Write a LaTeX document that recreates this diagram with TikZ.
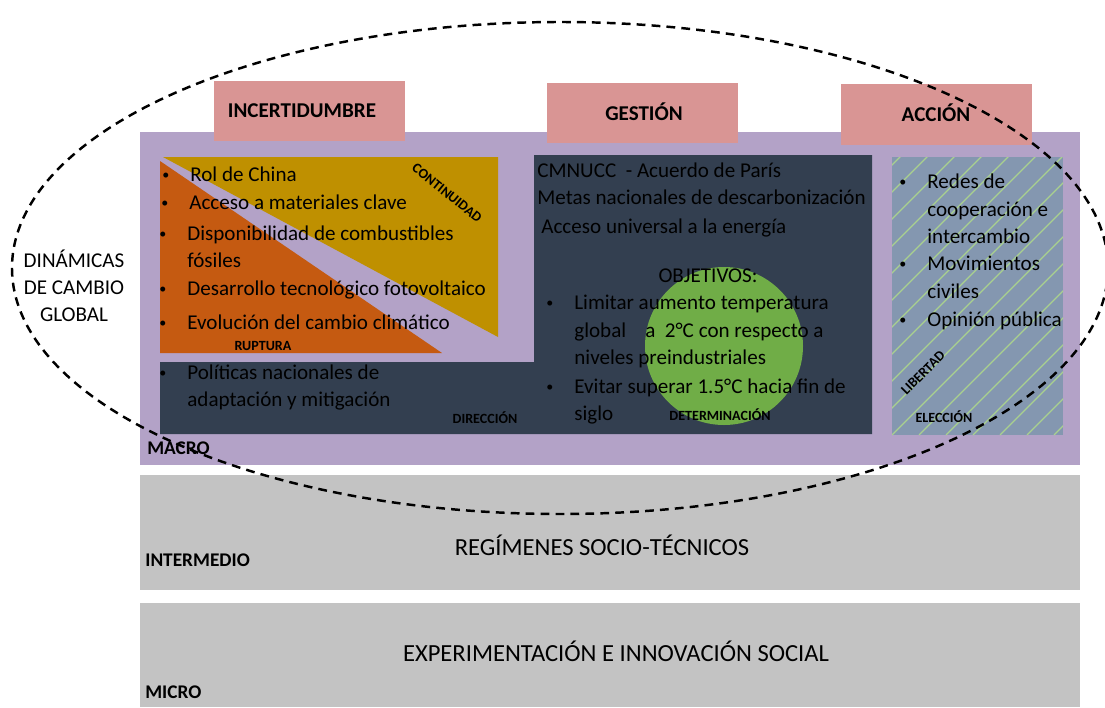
\documentclass[tikz,border=0pt]{standalone}
\usepackage{fontspec}
\setmainfont{Carlito}
\definecolor{macro}{HTML}{B3A2C7}
\definecolor{rosa}{HTML}{D99594}
\definecolor{oro}{HTML}{BF9000}
\definecolor{naranja}{HTML}{C55A11}
\definecolor{marino}{HTML}{333F50}
\definecolor{verde}{HTML}{70AD47}
\definecolor{pizarra}{HTML}{8497B0}
\definecolor{trama}{HTML}{A9D18E}
\definecolor{gris}{HTML}{C3C3C3}
\newcommand{\bul}{\llap{\raisebox{0.9pt}{\fontsize{8}{8}\selectfont\textbullet}\hspace{0.42cm}}}

\begin{document}
\begin{tikzpicture}[
        x=0.02cm, y=-0.02cm,
        item/.style={anchor=base west, inner sep=0pt, font=\fontsize{12}{14}\selectfont},
        head/.style={inner sep=0pt, font=\fontsize{12}{14}\selectfont\bfseries},
        tag/.style={inner sep=0pt, font=\fontsize{8}{9}\selectfont\bfseries},
        level/.style={anchor=west, inner sep=0pt, font=\fontsize{11}{13}\selectfont\bfseries},
        band/.style={inner sep=0pt, font=\fontsize{14}{16}\selectfont},
        ring/.style={dashed, dash pattern=on 5pt off 3.5pt, line width=1.4pt}
        ]
            \useasboundingbox (0, 0) rectangle (1105, 707);

            % Levels
            \fill[macro] (140, 132) rectangle (1080, 465);
            \fill[gris] (140, 475) rectangle (1080, 590);
            \fill[gris] (140, 603) rectangle (1080, 707);

            % Headers
            \fill[rosa] (214, 81) rectangle (405, 141);
            \fill[rosa] (547, 83) rectangle (738, 143);
            \fill[rosa] (841, 84) rectangle (1032, 145);
            \node[head] (incert) at (302, 111) {INCERTIDUMBRE};
            \node[head] (gestion) at (644, 112) {GESTIÓN};
            \node[head] (accion) at (936, 113) {ACCIÓN};

            % Incertidumbre
            \fill[oro] (163, 157) -- (498, 157) -- (498, 337) -- cycle;
            \fill[naranja] (160, 161) -- (160, 353) -- (442, 353) -- cycle;

            % Gestion
            \fill[marino] (534, 155) -- (872, 155) -- (872, 434) -- (160, 434)
                -- (160, 362) -- (534, 362) -- cycle;
            \fill[verde] (724, 346) circle (79);

            % Accion
            \fill[pizarra] (892, 157) rectangle (1063, 435);
            \begin{scope}
                \clip (892, 157) rectangle (1063, 435);
                \foreach \k in {-11,...,7}
                    \draw[trama, line width=0.7pt] ({892+27*\k}, 435) -- ++(300, -300);
            \end{scope}

            % Texts
            \node[item] (inc1) at (190, 181) {\bul Rol de China};
            \node[item] (inc2) at (189, 209) {\bul Acceso a materiales clave};
            \node[item] (inc3) at (187, 240) {\bul Disponibilidad de combustibles};
            \node[item] (inc4) at (187, 267) {fósiles};
            \node[item] (inc5) at (187, 295) {\bul Desarrollo tecnológico fotovoltaico};
            \node[item] (inc6) at (187, 329) {\bul Evolución del cambio climático};
            \node[item] (pol1) at (187, 379) {\bul Políticas nacionales de};
            \node[item] (pol2) at (187, 406) {adaptación y mitigación};

            \node[item] (ges1) at (537, 177) {CMNUCC\ \ - Acuerdo de París};
            \node[item] (ges2) at (537, 204) {Metas nacionales de descarbonización};
            \node[item] (ges3) at (541, 233) {Acceso universal a la energía};
            \node[item, anchor=base] (obj) at (708, 282) {OBJETIVOS:};
            \node[item] (obj1) at (574, 309) {\bul Limitar aumento temperatura};
            \node[item] (obj2) at (574, 337) {global\ \ \ \ a\ \ 2°C con respecto a};
            \node[item] (obj3) at (574, 364) {niveles preindustriales};
            \node[item] (obj4) at (574, 393) {\bul Evitar superar 1.5°C hacia fin de};
            \node[item] (obj5) at (574, 420) {siglo};

            \node[item] (acc1) at (927, 188) {\bul Redes de};
            \node[item] (acc2) at (927, 216) {cooperación e};
            \node[item] (acc3) at (927, 243) {intercambio};
            \node[item] (acc4) at (927, 270) {\bul Movimientos};
            \node[item] (acc5) at (927, 298) {civiles};
            \node[item] (acc6) at (927, 326) {\bul Opinión pública};

            \node[tag, rotate=-39] (cont) at (447, 193) {CONTINUIDAD};
            \node[tag] (rupt) at (263, 346) {RUPTURA};
            \node[tag] (dir) at (485, 418) {DIRECCIÓN};
            \node[tag] (det) at (720, 415) {DETERMINACIÓN};
            \node[tag, rotate=45] (lib) at (923, 373) {LIBERTAD};
            \node[tag] (elec) at (944, 417) {ELECCIÓN};

            \node[level] (macro) at (147, 448) {MACRO};
            \node[level] (inter) at (145, 560) {INTERMEDIO};
            \node[level] (micro) at (145, 692) {MICRO};
            \node[band] (reg) at (602, 545) {REGÍMENES SOCIO-TÉCNICOS};
            \node[band] (exp) at (616, 651) {EXPERIMENTACIÓN E INNOVACIÓN SOCIAL};

            % Dinamicas
            \node[align=center, inner sep=0pt, font=\fontsize{12}{15.3}\selectfont] (din) at (74, 286)
                {DINÁMICAS\\DE CAMBIO\\GLOBAL};
            \draw[ring] (560, 268) ellipse [x radius=548, y radius=246];
        \end{tikzpicture}
\end{document}
